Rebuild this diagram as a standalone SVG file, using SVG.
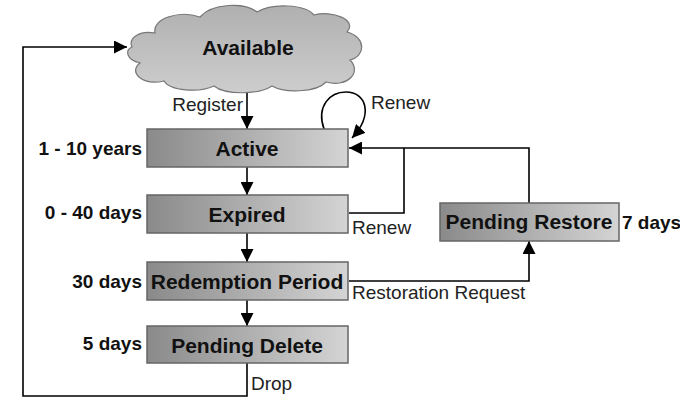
<svg xmlns="http://www.w3.org/2000/svg" width="680" height="400" viewBox="0 0 680 400">
  <defs>
    <linearGradient id="boxFill" x1="0" y1="0" x2="1" y2="0">
      <stop offset="0" stop-color="#8a8a8a"/>
      <stop offset="1" stop-color="#d4d4d4"/>
    </linearGradient>
    <linearGradient id="cloudFill" x1="0" y1="0" x2="0" y2="1">
      <stop offset="0" stop-color="#b0b0b0"/>
      <stop offset="1" stop-color="#cdcdcd"/>
    </linearGradient>
    <marker id="arrow" viewBox="0 0 12 12" refX="12" refY="6" markerWidth="13" markerHeight="13" markerUnits="userSpaceOnUse" orient="auto">
      <path d="M0,0 L12,6 L0,12 Z" fill="#000"/>
    </marker>
  </defs>
  <style>
    .box { fill: url(#boxFill); stroke: #666; stroke-width: 1.5; }
    .cloud { fill: url(#cloudFill); stroke: #777; stroke-width: 1.2; }
    .node { font-family: "Liberation Sans", Arial, sans-serif; font-weight: bold; font-size: 21px; fill: #111; text-anchor: middle; }
    .side { font-family: "Liberation Sans", Arial, sans-serif; font-weight: bold; font-size: 19px; fill: #111; }
    .lbl { font-family: "Liberation Sans", Arial, sans-serif; font-size: 19px; fill: #222; }
    .line { fill: none; stroke: #000; stroke-width: 1.6; }
  </style>
  <rect width="680" height="400" fill="#fff"/>

  <g id="connectors">
    <!-- Available -> Active -->
    <path class="line" d="M247,88 L247,129" marker-end="url(#arrow)"/>
    <!-- Active -> Expired -->
    <path class="line" d="M247,167 L247,195" marker-end="url(#arrow)"/>
    <!-- Expired -> Redemption Period -->
    <path class="line" d="M247,233 L247,262" marker-end="url(#arrow)"/>
    <!-- Redemption Period -> Pending Delete -->
    <path class="line" d="M247,300 L247,326" marker-end="url(#arrow)"/>
    <!-- Active self renew -->
    <path class="line" d="M324,129 C316,106 330,92 346,92 C366,92 374,114 352,138" marker-end="url(#arrow)"/>
    <!-- Expired renew -> Active -->
    <path class="line" d="M349,213 L404,213 L404,148"/>
    <!-- Pending Restore -> Active -->
    <path class="line" d="M529,203 L529,148 L349,148" marker-end="url(#arrow)"/>
    <!-- Restoration request -->
    <path class="line" d="M349,281 L529,281 L529,241" marker-end="url(#arrow)"/>
    <!-- Drop -> Available -->
    <path class="line" d="M247,363 L247,396 L23,396 L23,47 L127,47" marker-end="url(#arrow)"/>
  </g>

  <g id="available">
    <path class="cloud" d="M132,47 C128,38 140,30 155,33 C152,18 180,10 200,17 C212,3 245,2 257,12 C272,3 305,4 314,15 C332,10 358,20 347,32 C366,37 366,56 350,60 C362,72 348,88 326,82 C316,93 284,93 272,86 C258,95 225,95 214,86 C199,93 170,91 164,81 C142,86 128,72 140,63 C126,60 125,50 132,47 Z"/>
    <text class="node" x="248" y="55">Available</text>
  </g>

  <g id="active">
    <rect class="box" x="147" y="129" width="201" height="38"/>
    <text class="node" x="247" y="156">Active</text>
    <text class="side" x="142" y="155" text-anchor="end">1 - 10 years</text>
  </g>

  <g id="expired">
    <rect class="box" x="147" y="195" width="201" height="38"/>
    <text class="node" x="247" y="222">Expired</text>
    <text class="side" x="142" y="219" text-anchor="end">0 - 40 days</text>
  </g>

  <g id="redemption">
    <rect class="box" x="147" y="262" width="201" height="38"/>
    <text class="node" x="247" y="289">Redemption Period</text>
    <text class="side" x="142" y="288" text-anchor="end">30 days</text>
  </g>

  <g id="pending-delete">
    <rect class="box" x="147" y="326" width="201" height="37"/>
    <text class="node" x="247" y="353">Pending Delete</text>
    <text class="side" x="142" y="350" text-anchor="end">5 days</text>
  </g>

  <g id="pending-restore">
    <rect class="box" x="440" y="203" width="179" height="38"/>
    <text class="node" x="529" y="229">Pending Restore</text>
    <text class="side" x="622" y="229">7 days</text>
  </g>

  <g id="labels">
    <text class="lbl" x="243" y="111" text-anchor="end">Register</text>
    <text class="lbl" x="371" y="109">Renew</text>
    <text class="lbl" x="352" y="234">Renew</text>
    <text class="lbl" x="352" y="299">Restoration Request</text>
    <text class="lbl" x="251" y="390">Drop</text>
  </g>
</svg>
